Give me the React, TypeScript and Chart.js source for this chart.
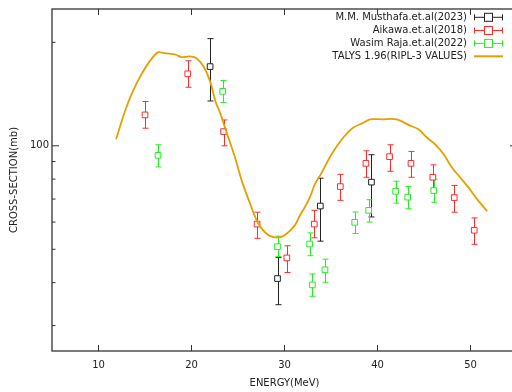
import React, { useEffect, useRef } from 'react';
import { Chart, registerables } from 'chart.js';
Chart.register(...registerables);

// ---- Data ----
const musE = [22.0, 29.25, 33.85, 39.35];
const musS = [170, 41.1, 66.8, 78.4];
const musLo = [135, 34.5, 52.8, 62.1];
const musHi = [205, 47.3, 80.5, 94.2];

const aikE = [15.0, 19.6, 23.45, 27.05, 30.25, 33.2, 36.0, 38.75, 41.3, 43.6, 45.95, 48.25, 50.4];
const aikS = [123, 162, 110, 59.2, 47.2, 59.2, 76.1, 88.9, 93.0, 88.9, 81.0, 70.7, 56.8];
const aikLo = [112.5, 148, 100, 53.8, 42.8, 54.0, 69.4, 81.0, 84.3, 81.0, 75.1, 64.1, 51.7];
const aikHi = [134.6, 176.7, 118.9, 64.1, 51.2, 64.9, 82.6, 96.7, 100.7, 96.3, 88.0, 76.7, 61.7];

const wasE = [16.4, 23.35, 29.25, 32.7, 33.0, 34.35, 37.55, 39.05, 41.95, 43.25, 46.05];
const wasS = [93.8, 144, 50.9, 51.8, 39.4, 43.6, 59.9, 64.9, 73.7, 70.9, 74.1];
const wasLo = [86.8, 133.7, 47.6, 47.9, 36.5, 40.1, 55.6, 60.0, 68.1, 65.6, 68.5];
const wasHi = [100.7, 154.8, 54.6, 55.8, 42.4, 46.8, 64.2, 69.7, 78.9, 76.1, 80.0];

const talysE = [11.9, 12.44, 12.98, 13.69, 14.59, 15.5, 16.38, 17.1, 17.8, 18.34, 18.9, 19.78, 20.5, 21.3, 22.0, 22.6, 23.06, 23.6, 24.68, 25.4, 26.3, 27.18, 28.26, 29.33, 30.05, 31.13, 31.67, 32.2, 32.74, 33.28, 33.82, 35.08, 36.32, 37.4, 38.47, 39.2, 40.45, 42.06, 43.5, 44.4, 45.3, 46.2, 47.1, 47.98, 48.87, 49.76, 50.66, 51.8];
const talysS = [104.5, 116.7, 129, 144, 161, 176, 187, 186, 185, 184, 181, 182, 180, 170, 154, 134, 125, 113, 92.5, 79.2, 67.9, 59.4, 55, 54.1, 55, 58.8, 62.8, 66.4, 70.9, 77.5, 81.9, 94.6, 105.7, 113, 116.7, 119.4, 119.4, 119.4, 114.5, 111.7, 105.7, 101, 94.6, 86.6, 81, 75.8, 70.2, 64.5];

const xTicks = [10, 20, 30, 40, 50];
const yMajor = [100];
const yMinor = [30, 40, 50, 60, 70, 80, 90, 200];

const legendLabels = ['M.M. Musthafa.et.al(2023)', 'Aikawa.et.al(2018)', 'Wasim Raja.et.al(2022)', 'TALYS 1.96(RIPL-3 VALUES)'];

const C_BLACK = '#222222';
const C_RED = '#ff2a2a';
const C_GREEN = '#22ee22';
const C_ORANGE = '#e69f00';
const TEXT = '#222222';
const FONT = 'DejaVu Sans';

const toPts = (xs: number[], ys: number[]) => xs.map((x, i) => ({ x, y: ys[i] }));

const errorBars = {
  id: 'errorBars',
  beforeDatasetsDraw(chart: any) {
    const ctx = chart.ctx;
    const xs = chart.scales.x;
    const ys = chart.scales.y;
    chart.data.datasets.forEach((ds: any) => {
      if (!ds.errLo) return;
      ctx.save();
      ctx.strokeStyle = ds.borderColor;
      ctx.lineWidth = 1;
      ctx.beginPath();
      ds.data.forEach((p: any, i: number) => {
        const px = Math.round(xs.getPixelForValue(p.x)) + 0.5;
        const y1 = ys.getPixelForValue(ds.errLo[i]);
        const y2 = ys.getPixelForValue(ds.errHi[i]);
        ctx.moveTo(px, y1);
        ctx.lineTo(px, y2);
        ctx.moveTo(px - 3, y1);
        ctx.lineTo(px + 3, y1);
        ctx.moveTo(px - 3, y2);
        ctx.lineTo(px + 3, y2);
      });
      ctx.stroke();
      ctx.restore();
    });
  },
};

const frame = {
  id: 'frame',
  afterDatasetsDraw(chart: any) {
    const { ctx, chartArea: a } = chart;
    const xs = chart.scales.x;
    const ys = chart.scales.y;
    ctx.save();
    ctx.strokeStyle = '#333333';
    ctx.lineWidth = 1.3;
    ctx.strokeRect(a.left, a.top, a.right - a.left, a.bottom - a.top);
    ctx.lineWidth = 1;
    ctx.beginPath();
    xTicks.forEach((v) => {
      const px = xs.getPixelForValue(v);
      ctx.moveTo(px, a.bottom);
      ctx.lineTo(px, a.bottom - 6);
      ctx.moveTo(px, a.top);
      ctx.lineTo(px, a.top + 6);
    });
    yMajor.forEach((v) => {
      const py = ys.getPixelForValue(v);
      ctx.moveTo(a.left, py);
      ctx.lineTo(a.left + 7, py);
      ctx.moveTo(a.right, py);
      ctx.lineTo(a.right - 7, py);
    });
    yMinor.forEach((v) => {
      const py = ys.getPixelForValue(v);
      ctx.moveTo(a.left, py);
      ctx.lineTo(a.left + 3.5, py);
      ctx.moveTo(a.right, py);
      ctx.lineTo(a.right - 3.5, py);
    });
    ctx.stroke();
    ctx.restore();
  },
};

const legendPlugin = {
  id: 'customLegend',
  afterDraw(chart: any) {
    const ctx = chart.ctx;
    const colors = [C_BLACK, C_RED, C_GREEN, C_ORANGE];
    const rowY = [17.3, 30.5, 43.4, 56.3];
    const textX = 467;
    const x1 = 474;
    const x2 = 503;
    const cx = 488.5;
    ctx.save();
    ctx.font = `10px "${FONT}"`;
    ctx.textAlign = 'right';
    ctx.textBaseline = 'middle';
    legendLabels.forEach((lab, i) => {
      const y = rowY[i];
      ctx.fillStyle = TEXT;
      ctx.fillText(lab, textX, y);
      ctx.strokeStyle = colors[i];
      if (i < 3) {
        ctx.lineWidth = 1;
        ctx.beginPath();
        ctx.moveTo(x1, y);
        ctx.lineTo(x2, y);
        ctx.moveTo(x1 + 0.5, y - 3);
        ctx.lineTo(x1 + 0.5, y + 3);
        ctx.moveTo(x2 - 0.5, y - 3);
        ctx.lineTo(x2 - 0.5, y + 3);
        ctx.stroke();
        ctx.fillStyle = '#ffffff';
        ctx.fillRect(cx - 4, y - 4, 8, 8);
        ctx.strokeRect(cx - 4, y - 4, 8, 8);
      } else {
        ctx.lineWidth = 2;
        ctx.beginPath();
        ctx.moveTo(x1, y);
        ctx.lineTo(x2, y);
        ctx.stroke();
      }
    });
    ctx.restore();
  },
};

function ChartView() {
  const ref = useRef<HTMLCanvasElement | null>(null);
  useEffect(() => {
    if (!ref.current) return;
    Chart.defaults.font.family = FONT;
    const pointDs = (label: string, xs: number[], ys: number[], lo: number[], hi: number[], color: string) => ({
      type: 'scatter' as const,
      label,
      data: toPts(xs, ys),
      errLo: lo,
      errHi: hi,
      borderColor: color,
      backgroundColor: '#ffffff',
      pointStyle: 'rect',
      pointRadius: 4,
      pointBorderWidth: 1,
      showLine: false,
      order: 1,
    });
    const chart = new Chart(ref.current, {
      type: 'scatter',
      data: {
        datasets: [
          {
            type: 'line' as const,
            label: legendLabels[3],
            data: toPts(talysE, talysS),
            borderColor: C_ORANGE,
            borderWidth: 1.8,
            pointRadius: 0,
            fill: false,
            tension: 0.3,
            order: 0,
          },
          pointDs(legendLabels[0], musE, musS, musLo, musHi, C_BLACK),
          pointDs(legendLabels[1], aikE, aikS, aikLo, aikHi, C_RED),
          pointDs(legendLabels[2], wasE, wasS, wasLo, wasHi, C_GREEN),
        ] as any,
      },
      options: {
        responsive: false,
        animation: false,
        layout: { padding: { left: 0, top: 7, right: 13, bottom: 0 } },
        plugins: { legend: { display: false }, tooltip: { enabled: false } },
        scales: {
          x: {
            type: 'linear',
            min: 5,
            max: 55,
            afterBuildTicks: (s: any) => {
              s.ticks = xTicks.map((v) => ({ value: v }));
            },
            afterFit: (s: any) => {
              s.height = 41;
            },
            grid: { display: false, drawTicks: false },
            border: { display: false },
            ticks: { color: TEXT, font: { family: FONT, size: 10 }, padding: 8, maxRotation: 0, autoSkip: false },
            title: { display: true, text: 'ENERGY(MeV)', color: TEXT, font: { family: FONT, size: 10 }, padding: { top: 0, bottom: 3 } },
          },
          y: {
            type: 'logarithmic',
            min: 25.3,
            max: 250,
            afterBuildTicks: (s: any) => {
              s.ticks = [...yMinor, ...yMajor].sort((a, b) => a - b).map((v) => ({ value: v }));
            },
            afterFit: (s: any) => {
              s.width = 52;
            },
            grid: { display: false, drawTicks: false },
            border: { display: false },
            ticks: {
              color: TEXT,
              font: { family: FONT, size: 10 },
              padding: 3,
              autoSkip: false,
              callback: (v: any) => (yMajor.includes(Number(v)) ? String(v) : ''),
            },
            title: { display: true, text: 'CROSS-SECTION(mb)', color: TEXT, font: { family: FONT, size: 10 }, padding: { top: 8, bottom: 0 } },
          },
        },
      } as any,
      plugins: [errorBars, frame, legendPlugin],
    });
    return () => chart.destroy();
  }, []);
  return <canvas ref={ref} width={530} height={392} style={{ width: 530, height: 392, display: 'block' }} />;
}

export default function App() {
  return (
    <div style={{ position: 'fixed', left: 0, top: 0, width: 512, height: 392, overflow: 'hidden', background: '#ffffff' }}>
      <div style={{ width: 530, height: 392 }}>
        <ChartView />
      </div>
    </div>
  );
}
